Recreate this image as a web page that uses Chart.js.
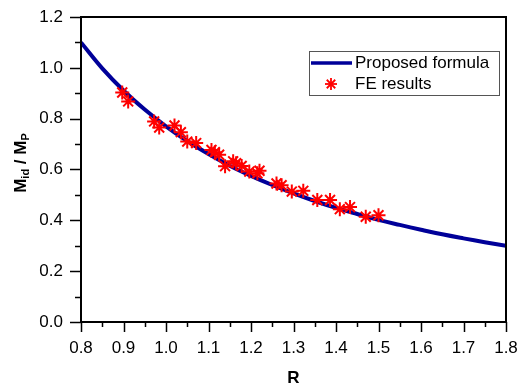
<!DOCTYPE html>
<html lang="en">
<head>
    <meta charset="UTF-8">
    <title>Mid / Mp vs R</title>
    <style>
        body { margin: 0; background: #fff; }
        .chart-container { width: 518px; height: 388px; }
    </style>
</head>
<body>
    <div class="chart-container">
        <canvas id="grafico" width="518" height="388"></canvas>
    </div>

    <script src="https://cdn.jsdelivr.net/npm/chart.js"></script>
    <script>
        // Curva da fórmula proposta
        const curvaR = [0.80, 0.85, 0.90, 0.95, 1.00, 1.05, 1.10, 1.15, 1.20, 1.25, 1.30,
                        1.35, 1.40, 1.45, 1.50, 1.55, 1.60, 1.65, 1.70, 1.75, 1.80];
        const curvaM = [1.100, 0.998, 0.911, 0.836, 0.770, 0.712, 0.661, 0.615, 0.575, 0.539, 0.506,
                        0.476, 0.449, 0.425, 0.402, 0.382, 0.363, 0.345, 0.329, 0.314, 0.300];

        // Resultados FE
        const feR = [0.897, 0.911, 0.972, 0.984, 1.020, 1.035, 1.050, 1.071, 1.107, 1.115,
                     1.125, 1.139, 1.158, 1.165, 1.178, 1.196, 1.215, 1.220, 1.260, 1.272,
                     1.296, 1.323, 1.356, 1.386, 1.409, 1.433, 1.470, 1.500];
        const feM = [0.903, 0.868, 0.789, 0.765, 0.773, 0.747, 0.710, 0.704, 0.677, 0.668,
                     0.658, 0.613, 0.632, 0.625, 0.614, 0.592, 0.585, 0.595, 0.545, 0.538,
                     0.513, 0.516, 0.480, 0.480, 0.444, 0.452, 0.414, 0.420];

        const xTicks = [0.8, 0.9, 1.0, 1.1, 1.2, 1.3, 1.4, 1.5, 1.6, 1.7, 1.8];
        const yTicks = [0.0, 0.2, 0.4, 0.6, 0.8, 1.0, 1.2];

        const fonte = '"Liberation Sans", Arial, sans-serif';

        // Desenha moldura, ticks, títulos e legenda
        const extras = {
            id: 'extras',
            afterDraw(chart) {
                const ctx = chart.ctx;
                const a = chart.chartArea;
                const x = chart.scales.x;
                const y = chart.scales.y;
                ctx.save();
                ctx.strokeStyle = '#000';
                ctx.fillStyle = '#000';

                // ticks X (maiores e menores)
                ctx.lineWidth = 1.5;
                for (let i = 0; i <= 20; i++) {
                    const v = 0.8 + i * 0.05;
                    const px = Math.round(x.getPixelForValue(v)) + 0.5;
                    const len = i % 2 === 0 ? 10 : 5;
                    ctx.beginPath();
                    ctx.moveTo(px, a.bottom);
                    ctx.lineTo(px, a.bottom + len);
                    ctx.stroke();
                }
                // ticks Y
                for (let i = 0; i <= 12; i++) {
                    const v = i * 0.1;
                    const py = Math.round(y.getPixelForValue(v)) + 0.5;
                    const len = i % 2 === 0 ? 11 : 6;
                    ctx.beginPath();
                    ctx.moveTo(a.left, py);
                    ctx.lineTo(a.left - len, py);
                    ctx.stroke();
                }

                // labels
                ctx.font = '17px ' + fonte;
                ctx.textAlign = 'center';
                ctx.textBaseline = 'top';
                xTicks.forEach(v => {
                    ctx.fillText(v.toFixed(1), x.getPixelForValue(v), a.bottom + 18);
                });
                ctx.textAlign = 'right';
                ctx.textBaseline = 'middle';
                yTicks.forEach(v => {
                    ctx.fillText(v.toFixed(1), a.left - 18, y.getPixelForValue(v));
                });

                // moldura
                ctx.lineWidth = 2;
                ctx.strokeRect(a.left, a.top, a.right - a.left, a.bottom - a.top);

                // título X
                ctx.font = 'bold 17px ' + fonte;
                ctx.textAlign = 'center';
                ctx.textBaseline = 'middle';
                ctx.fillText('R', (a.left + a.right) / 2, 378);

                // título Y com subscritos
                ctx.translate(21, 163);
                ctx.rotate(-Math.PI / 2);
                const partes = [
                    ['M', 17, 0], ['id', 11, 5], [' / M', 17, 0], ['P', 11, 5]
                ];
                let total = 0;
                partes.forEach(p => { ctx.font = 'bold ' + p[1] + 'px ' + fonte; total += ctx.measureText(p[0]).width; });
                let cx = -total / 2;
                ctx.textAlign = 'left';
                partes.forEach(p => {
                    ctx.font = 'bold ' + p[1] + 'px ' + fonte;
                    ctx.fillText(p[0], cx, p[2]);
                    cx += ctx.measureText(p[0]).width;
                });
                ctx.restore();

                // legenda
                ctx.save();
                ctx.strokeStyle = '#555';
                ctx.lineWidth = 1;
                ctx.strokeRect(309.5, 51.5, 190, 44);
                ctx.strokeStyle = '#000099';
                ctx.lineWidth = 3.5;
                ctx.beginPath();
                ctx.moveTo(311, 63);
                ctx.lineTo(352, 63);
                ctx.stroke();
                ctx.strokeStyle = '#ff0000';
                ctx.lineWidth = 1.8;
                const r = 6, sx = 331, sy = 84;
                for (let k = 0; k < 4; k++) {
                    const ang = k * Math.PI / 4;
                    ctx.beginPath();
                    ctx.moveTo(sx - r * Math.cos(ang), sy - r * Math.sin(ang));
                    ctx.lineTo(sx + r * Math.cos(ang), sy + r * Math.sin(ang));
                    ctx.stroke();
                }
                ctx.fillStyle = '#000';
                ctx.font = '17px ' + fonte;
                ctx.textAlign = 'left';
                ctx.textBaseline = 'middle';
                ctx.fillText('Proposed formula', 355, 63);
                ctx.fillText('FE results', 355, 84);
                ctx.restore();
            }
        };

        const ctx1 = document.getElementById('grafico').getContext('2d');
        const grafico = new Chart(ctx1, {
            type: 'scatter',
            data: {
                datasets: [{
                    label: 'FE results',
                    data: feR.map((r, i) => ({ x: r, y: feM[i] })),
                    pointStyle: 'star',
                    radius: 7,
                    borderColor: '#ff0000',
                    backgroundColor: '#ff0000',
                    borderWidth: 2,
                    order: 1
                }, {
                    label: 'Proposed formula',
                    type: 'line',
                    data: curvaR.map((r, i) => ({ x: r, y: curvaM[i] })),
                    borderColor: '#000099',
                    borderWidth: 4,
                    pointRadius: 0,
                    tension: 0.4,
                    fill: false,
                    order: 2
                }]
            },
            options: {
                responsive: false,
                animation: false,
                layout: { padding: { left: 0, right: 12, top: 17, bottom: 0 } },
                plugins: {
                    legend: { display: false },
                    tooltip: { enabled: false }
                },
                scales: {
                    x: {
                        type: 'linear',
                        min: 0.8,
                        max: 1.8,
                        grid: { display: false },
                        border: { display: false },
                        ticks: { display: false },
                        afterFit: s => { s.height = 66; }
                    },
                    y: {
                        min: 0,
                        max: 1.2,
                        grid: { display: false },
                        border: { display: false },
                        ticks: { display: false },
                        afterFit: s => { s.width = 81; }
                    }
                }
            },
            plugins: [extras]
        });
    </script>
</body>
</html>
